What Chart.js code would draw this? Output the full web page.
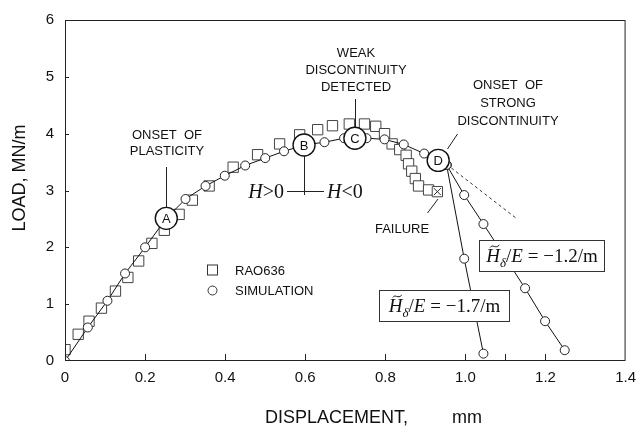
<!DOCTYPE html>
<html>
<head>
<meta charset="utf-8">
<script src="https://cdn.jsdelivr.net/npm/chart.js@4.4.1/dist/chart.umd.min.js"></script>
<style>
  html, body { margin: 0; padding: 0; background: #fff; }
  canvas { display: block; }
</style>
</head>
<body>
<canvas id="chart-carga" width="644" height="428"></canvas>
<script>
// Datos (desplazamiento en mm, carga en MN/m)
const raoX = [0.0, 0.033, 0.06, 0.091, 0.126, 0.157, 0.184, 0.217, 0.248, 0.285, 0.318, 0.36, 0.42, 0.481, 0.536, 0.586, 0.631, 0.668, 0.71, 0.748, 0.776, 0.798, 0.817, 0.836, 0.852, 0.858, 0.866, 0.875, 0.883, 0.908, 0.930];
const raoY = [0.20, 0.47, 0.70, 0.93, 1.23, 1.47, 1.76, 2.07, 2.30, 2.58, 2.83, 3.08, 3.41, 3.63, 3.82, 3.98, 4.07, 4.14, 4.17, 4.17, 4.13, 4.00, 3.82, 3.72, 3.62, 3.47, 3.34, 3.21, 3.08, 3.01, 2.98];

const simX = [0, 0.057, 0.106, 0.150, 0.200, 0.253, 0.301, 0.351, 0.399, 0.450, 0.500, 0.547, 0.597, 0.648, 0.697, 0.724, 0.753, 0.798, 0.846, 0.897, 0.932, 0.953];
const simY = [0, 0.59, 1.06, 1.54, 2.00, 2.51, 2.85, 3.08, 3.26, 3.44, 3.57, 3.69, 3.80, 3.85, 3.92, 3.92, 3.92, 3.90, 3.81, 3.65, 3.53, 3.45];

const rama17X = [0.953, 0.997, 1.045];
const rama17Y = [3.45, 1.80, 0.13];
const rama12X = [0.953, 0.997, 1.045, 1.149, 1.199, 1.248];
const rama12Y = [3.45, 2.92, 2.41, 1.28, 0.70, 0.19];
const tendX = [0.953, 1.131];
const tendY = [3.46, 2.49];

const puntosNombre = ['A', 'B', 'C', 'D'];
const puntosX = [0.253, 0.597, 0.724, 0.932];
const puntosY = [2.51, 3.80, 3.92, 3.53];

const falloX = [0.930];
const falloY = [2.98];

const pendientes = [-1.2, -1.7];
const series = ['RAO636', 'SIMULATION'];
const xTicks = [0, 0.2, 0.4, 0.6, 0.8, 1.0, 1.2, 1.4];
const xTickExtra = [1.1];

const SANS = '"Liberation Sans", Arial, Helvetica, sans-serif';
const SERIF = '"Liberation Serif", "Times New Roman", serif';

function pares(xs, ys) {
  return xs.map((x, i) => ({ x: x, y: ys[i] }));
}

// Dibuja texto compuesto (cursiva, subindices) en una sola linea
function textoMixto(c, partes, x, base, align) {
  let ancho = 0;
  partes.forEach(p => { c.font = p.f; ancho += c.measureText(p.t).width; });
  let px = align === 'center' ? x - ancho / 2 : (align === 'right' ? x - ancho : x);
  c.textAlign = 'left';
  c.textBaseline = 'alphabetic';
  partes.forEach(p => {
    c.font = p.f;
    if (p.tilde) {
      // tilde sobre la H
      c.beginPath();
      c.lineWidth = 1;
      const tx = px + 4, ty = base - 16;
      c.moveTo(tx, ty + 1.5);
      c.bezierCurveTo(tx + 2.5, ty - 2.5, tx + 5, ty + 3.5, tx + 9, ty - 1);
      c.stroke();
    }
    c.fillText(p.t, px, base + (p.dy || 0));
    px += c.measureText(p.t).width;
  });
}

function etiquetaPendiente(v) {
  return [
    { t: 'H', f: 'italic 19px ' + SERIF, tilde: true },
    { t: '\u03b4', f: 'italic 13px ' + SERIF, dy: 5 },
    { t: '/', f: '19px ' + SERIF },
    { t: 'E', f: 'italic 19px ' + SERIF },
    { t: ' = \u2212' + Math.abs(v).toFixed(1) + '/m', f: '19px ' + SERIF }
  ];
}

const anotaciones = {
  id: 'anotaciones',
  afterDatasetsDraw(chart) {
    const c = chart.ctx;
    const area = chart.chartArea;
    const sx = chart.scales.x;
    const sy = chart.scales.y;
    c.save();
    c.strokeStyle = '#222';
    c.fillStyle = '#111';
    c.lineWidth = 1;

    // marco
    c.strokeRect(area.left + 0.5, area.top + 0.5, area.width - 1, area.height - 1);

    // marcas hacia dentro
    c.beginPath();
    xTicks.concat(xTickExtra).forEach(v => {
      if (v <= 0 || v >= 1.4) return;
      const px = Math.round(sx.getPixelForValue(v)) + 0.5;
      c.moveTo(px, area.bottom);
      c.lineTo(px, area.bottom - 7);
    });
    sy.ticks.forEach(t => {
      if (t.value <= 0 || t.value >= 6) return;
      const py = Math.round(sy.getPixelForValue(t.value)) + 0.5;
      c.moveTo(area.left, py);
      c.lineTo(area.left + 4, py);
    });
    c.stroke();

    // letras de los puntos clave
    c.font = '13px ' + SANS;
    c.textAlign = 'center';
    c.textBaseline = 'middle';
    puntosNombre.forEach((n, i) => {
      c.fillText(n, sx.getPixelForValue(puntosX[i]), sy.getPixelForValue(puntosY[i]) + 1);
    });

    // lineas de referencia
    const bx = Math.round(sx.getPixelForValue(puntosX[1])) + 0.5;
    const by = sy.getPixelForValue(puntosY[1]);
    const cxp = Math.round(sx.getPixelForValue(puntosX[2])) + 0.5;
    const cyp = sy.getPixelForValue(puntosY[2]);
    const ax = Math.round(sx.getPixelForValue(puntosX[0])) + 0.5;
    const ay = sy.getPixelForValue(puntosY[0]);
    c.beginPath();
    c.moveTo(ax, 167); c.lineTo(ax, ay - 11);
    c.moveTo(cxp, 99); c.lineTo(cxp, cyp - 11);
    c.moveTo(bx, by + 11); c.lineTo(bx, 195);
    c.moveTo(287, 191.5); c.lineTo(324, 191.5);
    c.moveTo(457.5, 134); c.lineTo(447.5, 149);
    c.moveTo(427.5, 213); c.lineTo(438, 199);
    c.stroke();

    // textos
    c.font = '13px ' + SANS;
    c.textAlign = 'center';
    c.textBaseline = 'middle';
    c.fillText('ONSET  OF', 167, 135);
    c.fillText('PLASTICITY', 167, 151);
    c.fillText('WEAK', 356, 53);
    c.fillText('DISCONTINUITY', 356, 70);
    c.fillText('DETECTED', 356, 87);
    c.fillText('ONSET  OF', 508, 85);
    c.fillText('STRONG', 508, 103);
    c.fillText('DISCONTINUITY', 508, 121);
    c.fillText('FAILURE', 402, 229);

    textoMixto(c, [{ t: 'H', f: 'italic 20px ' + SERIF }, { t: '>0', f: '20px ' + SERIF }], 284, 198, 'right');
    textoMixto(c, [{ t: 'H', f: 'italic 20px ' + SERIF }, { t: '<0', f: '20px ' + SERIF }], 327, 198, 'left');

    // leyenda
    c.strokeStyle = '#333';
    c.fillStyle = '#fff';
    c.fillRect(207.5, 265, 10, 10);
    c.strokeRect(207.5, 265, 10, 10);
    c.beginPath();
    c.arc(212.5, 290.5, 4.5, 0, Math.PI * 2);
    c.fill();
    c.stroke();
    c.fillStyle = '#111';
    c.font = '13px ' + SANS;
    c.textAlign = 'left';
    c.textBaseline = 'middle';
    c.fillText(series[0], 235, 271);
    c.fillText(series[1], 235, 291);

    // recuadros de pendiente
    const cajas = [
      { x: 479.5, y: 240.5, w: 125, h: 31 },
      { x: 379.5, y: 290.5, w: 130, h: 31 }
    ];
    cajas.forEach((b, i) => {
      c.fillStyle = '#fff';
      c.fillRect(b.x, b.y, b.w, b.h);
      c.strokeStyle = '#333';
      c.strokeRect(b.x, b.y, b.w, b.h);
      c.fillStyle = '#111';
      c.strokeStyle = '#111';
      textoMixto(c, etiquetaPendiente(pendientes[i]), b.x + b.w / 2, b.y + b.h / 2 + 6, 'center');
    });

    // titulos de ejes
    c.fillStyle = '#111';
    c.font = '18px ' + SANS;
    c.textBaseline = 'middle';
    c.textAlign = 'left';
    c.fillText('DISPLACEMENT,', 265, 418);
    c.textAlign = 'right';
    c.fillText('mm', 482, 418);
    c.save();
    c.translate(20, 178);
    c.rotate(-Math.PI / 2);
    c.textAlign = 'center';
    c.fillText('LOAD, MN/m', 0, 0);
    c.restore();

    c.restore();
  }
};

const ctx = document.getElementById('chart-carga');

new Chart(ctx, {
  type: 'scatter',
  data: {
    datasets: [
      {
        label: 'puntos',
        data: pares(puntosX, puntosY),
        pointStyle: 'circle',
        pointRadius: 11,
        pointBackgroundColor: '#fff',
        pointBorderColor: '#111',
        pointBorderWidth: 1.4,
        showLine: false,
        order: 0
      },
      {
        label: 'fallo',
        data: pares(falloX, falloY),
        pointStyle: 'crossRot',
        pointRadius: 5,
        pointBorderColor: '#333',
        pointBorderWidth: 1,
        showLine: false,
        order: 1
      },
      {
        label: series[1],
        data: pares(simX, simY),
        showLine: true,
        borderColor: '#111',
        borderWidth: 1,
        pointStyle: 'circle',
        pointRadius: 4.5,
        pointBackgroundColor: '#fff',
        pointBorderColor: '#222',
        pointBorderWidth: 1,
        order: 2
      },
      {
        label: 'rama -1.7',
        data: pares(rama17X, rama17Y),
        showLine: true,
        borderColor: '#111',
        borderWidth: 1,
        pointRadius: 4.5,
        pointBackgroundColor: '#fff',
        pointBorderColor: '#222',
        pointBorderWidth: 1,
        order: 3
      },
      {
        label: 'rama -1.2',
        data: pares(rama12X, rama12Y),
        showLine: true,
        borderColor: '#111',
        borderWidth: 1,
        pointRadius: 4.5,
        pointBackgroundColor: '#fff',
        pointBorderColor: '#222',
        pointBorderWidth: 1,
        order: 3
      },
      {
        label: 'tendencia',
        data: pares(tendX, tendY),
        showLine: true,
        borderColor: '#333',
        borderWidth: 1,
        borderDash: [3, 3],
        pointRadius: 0,
        order: 4
      },
      {
        label: series[0],
        data: pares(raoX, raoY),
        showLine: false,
        pointStyle: 'rect',
        pointRadius: 7.3,
        pointBackgroundColor: '#fff',
        pointBorderColor: '#444',
        pointBorderWidth: 1,
        order: 5
      }
    ]
  },
  options: {
    responsive: false,
    animation: false,
    layout: {
      padding: { left: 0, right: 12, top: 16, bottom: 0 }
    },
    plugins: {
      legend: { display: false },
      tooltip: { enabled: false }
    },
    scales: {
      x: {
        type: 'linear',
        min: 0,
        max: 1.4,
        afterBuildTicks: s => { s.ticks = xTicks.map(v => ({ value: v })); },
        afterFit: s => { s.height = 67; },
        grid: { display: false, drawTicks: false },
        border: { display: false },
        ticks: {
          padding: 8,
          maxRotation: 0,
          color: '#111',
          font: { family: SANS, size: 15 },
          callback: v => (v === 0 ? '0' : v.toFixed(1))
        }
      },
      y: {
        min: 0,
        max: 6,
        afterFit: s => { s.width = 65; },
        grid: { display: false, drawTicks: false },
        border: { display: false },
        ticks: {
          stepSize: 1,
          padding: 11,
          color: '#111',
          font: { family: SANS, size: 15 }
        }
      }
    }
  },
  plugins: [anotaciones]
});
</script>
</body>
</html>
